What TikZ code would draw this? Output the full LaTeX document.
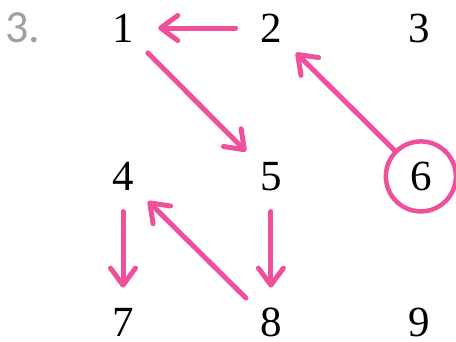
\documentclass[tikz,border=0pt]{standalone}
\usepackage{fontspec}
\setmainfont{Liberation Serif}
\newfontfamily\labelfont{Carlito}
\usepackage{tikz}
\usetikzlibrary{arrows.meta,positioning}
\definecolor{markpink}{RGB}{238,80,155}
\definecolor{labelgray}{RGB}{160,160,160}
\tikzset{
  digit/.style={circle,inner sep=0pt,minimum size=70pt,font=\fontsize{43}{48}\selectfont},
  pointer/.style={-{Straight Barb[length=17pt,width=25pt,line cap=round,line join=round]},
    line width=5pt, line cap=round, color=markpink},
  picked/.style={draw=markpink, line width=4.5pt}
}

\begin{document}
\begin{tikzpicture}[x=1pt,y=1pt]
  \useasboundingbox (0,0) rectangle (456,-341);
  \node[font=\labelfont\fontsize{46}{52}\selectfont, text=labelgray] (num) at (23,-28) {3.};
  \node[digit] (n1) at (123,-28) {1};
  \node[digit, right=77.5pt of n1] (n2) {2};
  \node[digit, right=77.5pt of n2] (n3) {3};
  \node[digit, below=78pt of n1] (n4) {4};
  \node[digit, right=77.5pt of n4] (n5) {5};
  \node[digit, picked, right=77.5pt of n5] (n6) {6};
  \node[digit, below=76pt of n4] (n7) {7};
  \node[digit, right=77.5pt of n7] (n8) {8};
  \node[digit, right=77.5pt of n8] (n9) {9};
  \draw[pointer] (n2) -- (n1);
  \draw[pointer] (n1) -- (n5);
  \draw[pointer] (n6) -- (n2);
  \draw[pointer] (n4) -- (n7);
  \draw[pointer] (n5) -- (n8);
  \draw[pointer] (n8) -- (n4);
\end{tikzpicture}
\end{document}
